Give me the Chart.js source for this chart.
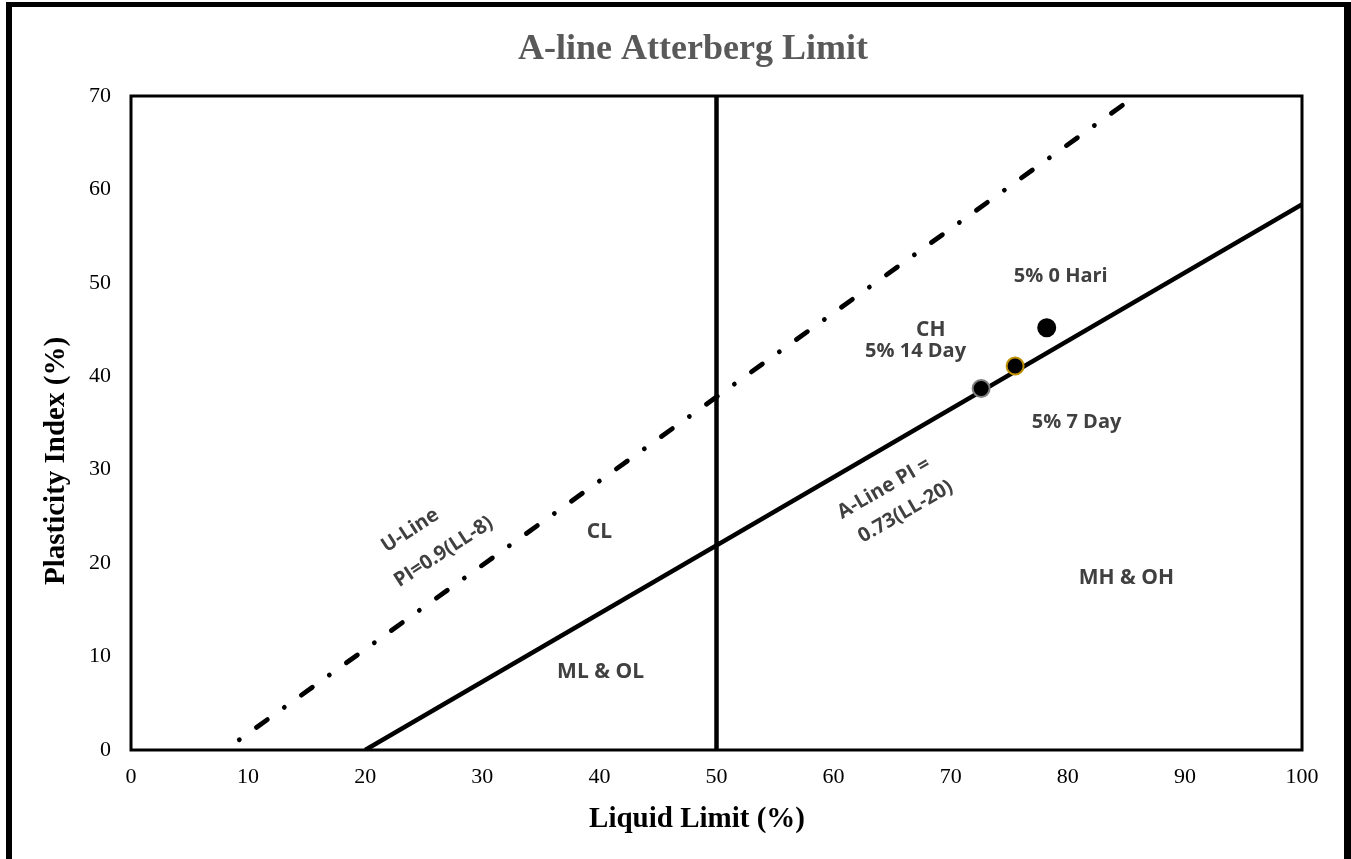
<!DOCTYPE html>
<html>
<head>
<meta charset="utf-8">
<title>A-line Atterberg Limit</title>
<script src="https://cdn.jsdelivr.net/npm/chart.js@4.4.1/dist/chart.umd.min.js"></script>
<style>
	html, body { margin: 0; padding: 0; background: #fff; }
	#wrap { width: 1351px; height: 859px; }
</style>
</head>
<body>
<div id="wrap"><canvas id="chart" width="1351" height="859"></canvas></div>
<script>
// chart data
var xTicks = [ 0, 10, 20, 30, 40, 50, 60, 70, 80, 90, 100 ];
var yTicks = [ 0, 10, 20, 30, 40, 50, 60, 70 ];

// A-line PI = 0.73(LL-20)
var aLineLL = [ 20, 100 ];
var aLinePI = [ 0, 58.4 ];

// U-line PI = 0.9(LL-8)
var uLineLL = [ 9.25, 85 ];
var uLinePI = [ 1.1, 69.3 ];

// LL = 50 boundary
var splitLL = [ 50, 50 ];
var splitPI = [ 0, 70 ];

// samples
var sampleNames = [ '5% 0 Hari', '5% 7 Day', '5% 14 Day' ];
var sampleLL    = [ 78.2, 75.5, 72.6 ];
var samplePI    = [ 45.2, 41.1, 38.7 ];

( function () {
	'use strict';

	var SERIF = '"Liberation Serif", "Times New Roman", serif';
	var SANS  = '"Open Sans", sans-serif';
	var LABEL = '#404040';

	function pts( xs, ys ) {
		return xs.map( function ( x, i ) { return { x: x, y: ys[ i ] }; } );
	}

	// text placed on the plot, anchored in axis units
	var notes = [
		{ text: 'CH', ll: 68.3, pi: 44.9, size: 21 },
		{ text: '5% 14 Day', ll: 67.0, pi: 42.7, size: 20 },
		{ text: '5% 0 Hari', ll: 79.4, pi: 50.75, size: 20 },
		{ text: '5% 7 Day', ll: 80.75, pi: 35.1, size: 20 },
		{ text: 'CL', ll: 40.0, pi: 23.3, size: 21 },
		{ text: 'ML & OL', ll: 40.1, pi: 8.35, size: 21 },
		{ text: 'MH & OH', ll: 85.0, pi: 18.4, size: 21 },
		{ text: 'U-Line', ll: 23.85, pi: 23.5, size: 20, rot: -33 },
		{ text: 'PI=0.9(LL-8)', ll: 26.7, pi: 21.2, size: 20, rot: -33 },
		{ text: 'A-Line PI =', ll: 64.3, pi: 28.0, size: 20, rot: -30 },
		{ text: '0.73(LL-20)', ll: 66.15, pi: 25.5, size: 20, rot: -30 }
	];

	var framePlugin = {
		id: 'frame',
		beforeDraw: function ( chart ) {
			var ctx = chart.ctx;
			ctx.save();
			ctx.fillStyle = '#fff';
			ctx.fillRect( 0, 0, chart.width, chart.height );
			ctx.fillStyle = '#000';
			ctx.fillRect( 6, 2, 6, chart.height - 2 );
			ctx.fillRect( 6, 2, chart.width - 6, 5 );
			ctx.fillRect( 1344, 2, 7, chart.height - 2 );
			ctx.restore();
		},
		afterDraw: function ( chart ) {
			var ctx = chart.ctx;
			var a = chart.chartArea;
			ctx.save();
			ctx.textAlign = 'center';
			ctx.textBaseline = 'middle';
			// chart title
			ctx.fillStyle = '#595959';
			ctx.font = 'bold 36px ' + SERIF;
			ctx.fillText( 'A-line Atterberg Limit', 693, 50 );
			// axis titles (sit off-centre in the original)
			ctx.fillStyle = '#000';
			ctx.font = 'bold 29px ' + SERIF;
			ctx.fillText( 'Liquid Limit (%)', 697, 820 );
			ctx.save();
			ctx.translate( 57, 461 );
			ctx.rotate( -Math.PI / 2 );
			ctx.fillText( 'Plasticity Index (%)', 0, 0 );
			ctx.restore();
			// plot box
			ctx.strokeStyle = '#000';
			ctx.lineWidth = 3;
			ctx.strokeRect( a.left, a.top, a.right - a.left, a.bottom - a.top );
			ctx.restore();
		},
		afterDatasetsDraw: function ( chart ) {
			var ctx = chart.ctx;
			var xs = chart.scales.x;
			var ys = chart.scales.y;
			ctx.save();
			ctx.fillStyle = LABEL;
			ctx.textAlign = 'center';
			ctx.textBaseline = 'middle';
			notes.forEach( function ( n ) {
				ctx.save();
				ctx.translate( xs.getPixelForValue( n.ll ), ys.getPixelForValue( n.pi ) );
				if ( n.rot ) {
					ctx.rotate( n.rot * Math.PI / 180 );
				}
				ctx.font = 'bold ' + n.size + 'px ' + SANS;
				ctx.fillText( n.text, 0, 0 );
				ctx.restore();
			} );
			ctx.restore();
		}
	};

	var sampleBorders = [ '#000000', '#bf9000', '#7f7f7f' ];
	var sampleSets = sampleNames.map( function ( name, i ) {
		return {
			label: name,
			data: [ { x: sampleLL[ i ], y: samplePI[ i ] } ],
			backgroundColor: '#000',
			borderColor: sampleBorders[ i ],
			borderWidth: 2,
			pointRadius: 8.5,
			showLine: false
		};
	} );

	var lineSets = [
		{
			label: 'A-Line',
			data: pts( aLineLL, aLinePI ),
			borderColor: '#000',
			borderWidth: 4.5,
			pointRadius: 0,
			showLine: true
		},
		{
			label: 'U-Line',
			data: pts( uLineLL, uLinePI ),
			borderColor: '#000',
			borderWidth: 4.8,
			borderDash: [ 0.01, 21, 13.5, 20.9 ],
			borderCapStyle: 'round',
			pointRadius: 0,
			showLine: true
		},
		{
			label: 'LL 50',
			data: pts( splitLL, splitPI ),
			borderColor: '#000',
			borderWidth: 4.5,
			pointRadius: 0,
			showLine: true
		}
	];

	function fixTicks( list ) {
		return function ( scale ) {
			scale.ticks = list.map( function ( v ) { return { value: v }; } );
		};
	}

	new Chart( document.getElementById( 'chart' ).getContext( '2d' ), {
		type: 'scatter',
		data: { datasets: sampleSets.concat( lineSets ) },
		plugins: [ framePlugin ],
		options: {
			responsive: false,
			animation: false,
			events: [],
			layout: { padding: { left: 0, right: 49, top: 96, bottom: 0 } },
			plugins: {
				legend: { display: false },
				tooltip: { enabled: false },
				title: { display: false }
			},
			scales: {
				x: {
					type: 'linear',
					min: 0,
					max: 100,
					afterBuildTicks: fixTicks( xTicks ),
					afterFit: function ( s ) { s.height = 109; },
					grid: { display: false, drawTicks: false, tickLength: 0 },
					border: { display: false },
					ticks: {
						padding: 14,
						color: '#000',
						font: { family: SERIF, size: 22 },
						maxRotation: 0
					},
					title: { display: false }
				},
				y: {
					type: 'linear',
					min: 0,
					max: 70,
					afterBuildTicks: fixTicks( yTicks ),
					afterFit: function ( s ) { s.width = 131; },
					grid: { display: false, drawTicks: false, tickLength: 0 },
					border: { display: false },
					ticks: {
						padding: 20,
						color: '#000',
						font: { family: SERIF, size: 22 }
					},
					title: { display: false }
				}
			}
		}
	} );
} )();
</script>
</body>
</html>
